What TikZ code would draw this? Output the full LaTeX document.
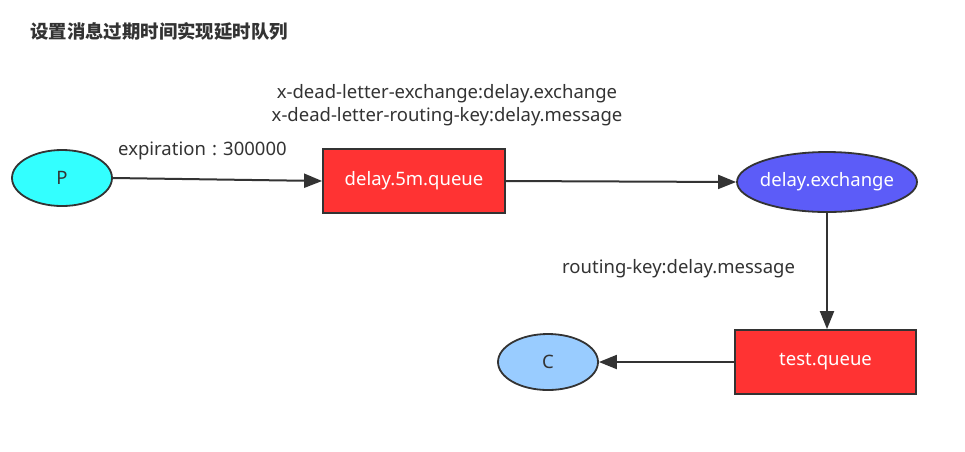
\documentclass[tikz,border=0pt]{standalone}
\usepackage{fontspec}
\setmainfont{Noto Sans}
\newfontfamily\cjk{Noto Sans CJK SC}
\usetikzlibrary{arrows.meta,shapes.geometric}
\definecolor{lineC}{HTML}{333333}
\definecolor{cyanF}{HTML}{33FFFF}
\definecolor{redF}{HTML}{FF3333}
\definecolor{blueF}{HTML}{5C5CF8}
\definecolor{lightF}{HTML}{99CCFF}
\tikzset{
  ell/.style={ellipse, draw=lineC, line width=1.8pt, inner sep=0pt},
  qbox/.style={rectangle, draw=lineC, line width=1.8pt, fill=redF, text=white, inner sep=0pt},
  conn/.style={draw=lineC, line width=2pt, -{Triangle[length=18pt,width=14pt]}},
  lbl/.style={text=lineC, font=\fontsize{18.5}{22}\selectfont, inner sep=0pt},
  ntext/.style={font=\fontsize{18.5}{22}\selectfont}
}
\begin{document}
\begin{tikzpicture}[x=1pt,y=-1pt]
\useasboundingbox[fill=white] (0,0) rectangle (965,451);
\node[anchor=west, inner sep=0pt, text=lineC] (title) at (30,31) {\cjk\bfseries\fontsize{18.4}{21}\selectfont 设置消息过期时间实现延时队列};
\node[ell, fill=cyanF, minimum width=100pt, minimum height=56pt, text=lineC, ntext] (P) at (62,178) {P};
\node[qbox, minimum width=182pt, minimum height=64pt, ntext] (dq) at (414,181) {delay.5m.queue};
\node[ell, inner xsep=-20pt, fill=blueF, minimum width=180pt, minimum height=60pt, text=white, ntext] (ex) at (827,182) {delay.exchange};
\node[qbox, minimum width=181pt, minimum height=64pt, ntext] (tq) at (825.5,362) {test.queue};
\node[ell, fill=lightF, minimum width=100pt, minimum height=56pt, text=lineC, ntext] (C) at (548,362) {C};
\node[lbl] (l1) at (447,94) {x-dead-letter-exchange:delay.exchange};
\node[lbl] (l2) at (447,117) {x-dead-letter-routing-key:delay.message};
\node[lbl, anchor=west] (l3) at (118,151) {expiration\,\,:\,\,300000};
\node[lbl, anchor=west] (l4) at (562,269) {routing-key:delay.message};
\draw[conn] (P.east) -- (dq.west);
\draw[conn] (dq.east) -- (ex.west);
\draw[conn] (ex.south) -- (ex.south |- tq.north);
\draw[conn] (tq.west) -- (C.east);
\end{tikzpicture}
\end{document}
